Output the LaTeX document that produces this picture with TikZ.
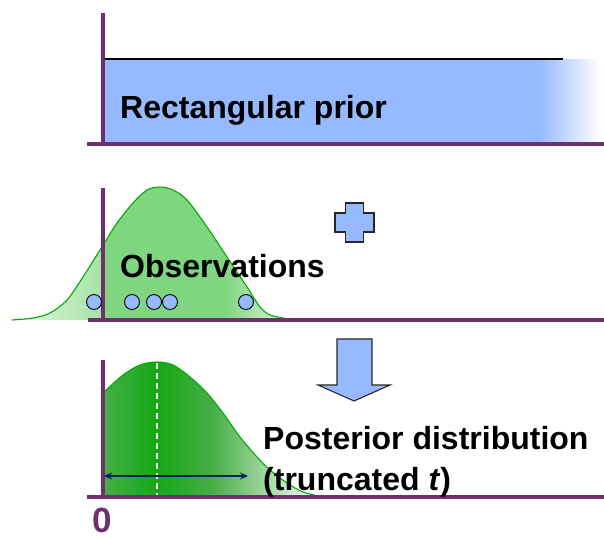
\documentclass[tikz,border=0pt]{standalone}
\usepackage{fontspec}
\setmainfont{Liberation Sans}
\usetikzlibrary{arrows.meta}
\definecolor{axispurple}{RGB}{112,48,112}
\definecolor{priorblue}{RGB}{150,185,255}
\definecolor{curvegreen}{RGB}{0,170,0}
\definecolor{obsgreen}{RGB}{128,214,128}
\definecolor{obspale}{RGB}{228,246,228}
\definecolor{postdark}{RGB}{20,168,20}
\definecolor{postmid}{RGB}{72,174,72}
\definecolor{spreadnavy}{RGB}{0,32,96}

% the two density curves, in picture units
\newcommand{\obscurve}{plot[smooth] coordinates {(12,320) (33,318) (50,313) (67,300) (83,277) (100,250) (117,223) (133,203) (147,190) (160,187) (173,190) (187,200) (207,227) (227,257) (247,287) (260,307) (270,315) (283,318) (293,320)}}
\newcommand{\postcurve}{plot[smooth] coordinates {(103,393) (123,375) (140,365) (157,362) (173,365) (190,377) (207,393) (223,413) (240,437) (257,457) (270,470) (287,483) (303,492) (323,497)}}

\begin{document}
\begin{tikzpicture}[x=1pt,y=-1pt,
    axis/.style={draw=axispurple, line width=3.5pt},
    label/.style={font=\fontsize{32}{41}\selectfont\bfseries, anchor=base west, inner sep=0pt},
    obs/.style={circle, draw=black, fill=priorblue, line width=0.9pt, minimum size=15pt, inner sep=0pt},
    density/.style={draw=curvegreen, line width=1.1pt},
    blueshape/.style={fill=priorblue, draw=black!85, line width=1.1pt},
    spread/.style={draw=spreadnavy, line width=1.3pt, {Stealth[length=8pt,width=7pt]}-{Stealth[length=8pt,width=7pt]}}
]
\useasboundingbox (0,0) rectangle (604,538);

% rectangular prior
\fill[priorblue] (103,59) rectangle (540,144);
\shade[left color=priorblue, right color=white] (539,59) rectangle (600,144);
\draw[line width=1.3pt] (103,59) -- (563,59);
\draw[axis] (103,13) -- (103,146);
\draw[axis] (87,144) -- (604,144);
\node[label] (prior) at (120,118) {Rectangular prior};

% observations
\begin{scope}
  \clip \obscurve -- cycle;
  \shade[left color=obspale, right color=obsgreen!70!white] (12,180) rectangle (103,320);
  \fill[obsgreen] (103,180) rectangle (226,320);
  \shade[left color=obsgreen, right color=obspale] (225,180) rectangle (293,320);
\end{scope}
\draw[density] \obscurve;
\draw[axis] (103,188) -- (103,321);
\draw[axis] (88,320) -- (604,320);
\foreach \x [count=\i] in {94,132,154,170,246}
  \node[obs] (o\i) at (\x,302) {};
\node[label] (obslabel) at (120,277) {Observations};

% plus and down arrow
\draw[blueshape] (345.5,203) -- (363.5,203) -- (363.5,213) -- (374,213) -- (374,232) -- (363.5,232)
  -- (363.5,242) -- (345.5,242) -- (345.5,232) -- (335,232) -- (335,213) -- (345.5,213) -- cycle;
\draw[blueshape] (337,339) -- (372,339) -- (372,385) -- (390,385) -- (354,401) -- (318,385) -- (337,385) -- cycle;

% posterior
\begin{scope}
  \clip \postcurve -- (103,497) -- cycle;
  \shade[left color=postmid, right color=postdark] (103,355) rectangle (157,497);
  \shade[left color=postdark, right color=postmid] (156,355) rectangle (214,497);
  \shade[left color=postmid, right color=obspale] (213,355) rectangle (305,497);
  \fill[obspale] (304,355) rectangle (323,497);
\end{scope}
\draw[density] \postcurve;
\draw[white, line width=1.3pt, dash pattern=on 6pt off 4pt] (157,363) -- (157,497);
\coordinate (lo) at (104,476);
\coordinate (hi) at (248,476);
\draw[spread] (lo) -- (hi);
\draw[axis] (103,360) -- (103,498);
\draw[axis] (87,497) -- (604,497);
\node[label, align=left] (post) at (263,490) {Posterior distribution\\(truncated \textit{t})};
\node[font=\fontsize{35}{35}\selectfont\bfseries, text=axispurple, anchor=base, inner sep=0pt] (zero) at (102,532) {0};
\end{tikzpicture}
\end{document}
